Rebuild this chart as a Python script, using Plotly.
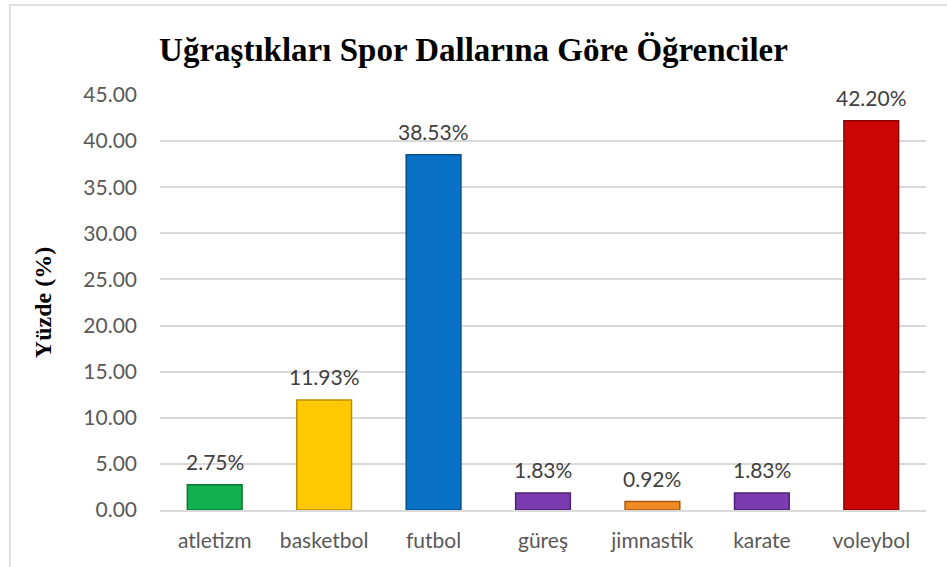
import plotly.graph_objects as go

categories = ["atletizm", "basketbol", "futbol", "güreş", "jimnastik", "karate", "voleybol"]
values = [2.75, 11.93, 38.53, 1.83, 0.92, 1.83, 42.20]
bar_colors = ["#12B04F", "#FFC800", "#0A72C6", "#7A3CB0", "#F08A24", "#7A3CB0", "#CC0606"]
edge_colors = ["#0A7A36", "#B88F00", "#064F8C", "#4E2273", "#A85A10", "#4E2273", "#8A0303"]
y_ticks = [0, 5, 10, 15, 20, 25, 30, 35, 40, 45]
y_tick_labels = ["%.2f" % t for t in y_ticks]

fig = go.Figure()
fig.add_trace(go.Bar(
    x=categories,
    y=values,
    marker=dict(color=bar_colors, line=dict(color=edge_colors, width=1.5)),
    cliponaxis=False,
    hoverinfo="skip",
))

annotations = [
    dict(x=c, y=v, xref="x", yref="y", text="%.2f%%" % v, showarrow=False,
         yanchor="bottom", yshift=9,
         font=dict(family="Lato", size=21, color="#404040"))
    for c, v in zip(categories, values)
]

fig.update_layout(
    width=947,
    height=567,
    paper_bgcolor="white",
    plot_bgcolor="white",
    margin=dict(l=160, r=21, t=95, b=57),
    bargap=0.5,
    showlegend=False,
    annotations=annotations,
    title=dict(
        text="<b>Uğraştıkları Spor Dallarına Göre Öğrenciler</b>",
        x=0.5, xanchor="center",
        y=0.912, yanchor="middle",
        font=dict(family="Liberation Serif", size=33, color="#000000"),
    ),
    shapes=[dict(type="rect", xref="paper", yref="paper",
                 x0=-0.196, x1=1.1, y0=-0.3, y1=1.217,
                 line=dict(color="#D9D9D9", width=1.5), fillcolor="rgba(0,0,0,0)",
                 layer="below")],
)

fig.update_xaxes(
    showgrid=False,
    showline=True, linecolor="#D9D9D9", linewidth=1.5,
    ticks="", tickfont=dict(family="Lato", size=21, color="#595959"),
    ticklabelstandoff=11,
)
fig.update_yaxes(
    range=[0, 45],
    tickvals=y_ticks, ticktext=y_tick_labels,
    showgrid=True, gridcolor="#D9D9D9", gridwidth=1.5,
    zeroline=False, showline=False,
    ticks="", ticklabelstandoff=22,
    tickfont=dict(family="Lato", size=21, color="#595959"),
    title=dict(text="<b>Yüzde (%)</b>", font=dict(family="Liberation Serif", size=24, color="#000000"),
               standoff=24),
)

fig.write_html("out.html", config={"displayModeBar": False},
               post_script="document.body.style.margin='0';document.body.style.overflow='hidden';")
